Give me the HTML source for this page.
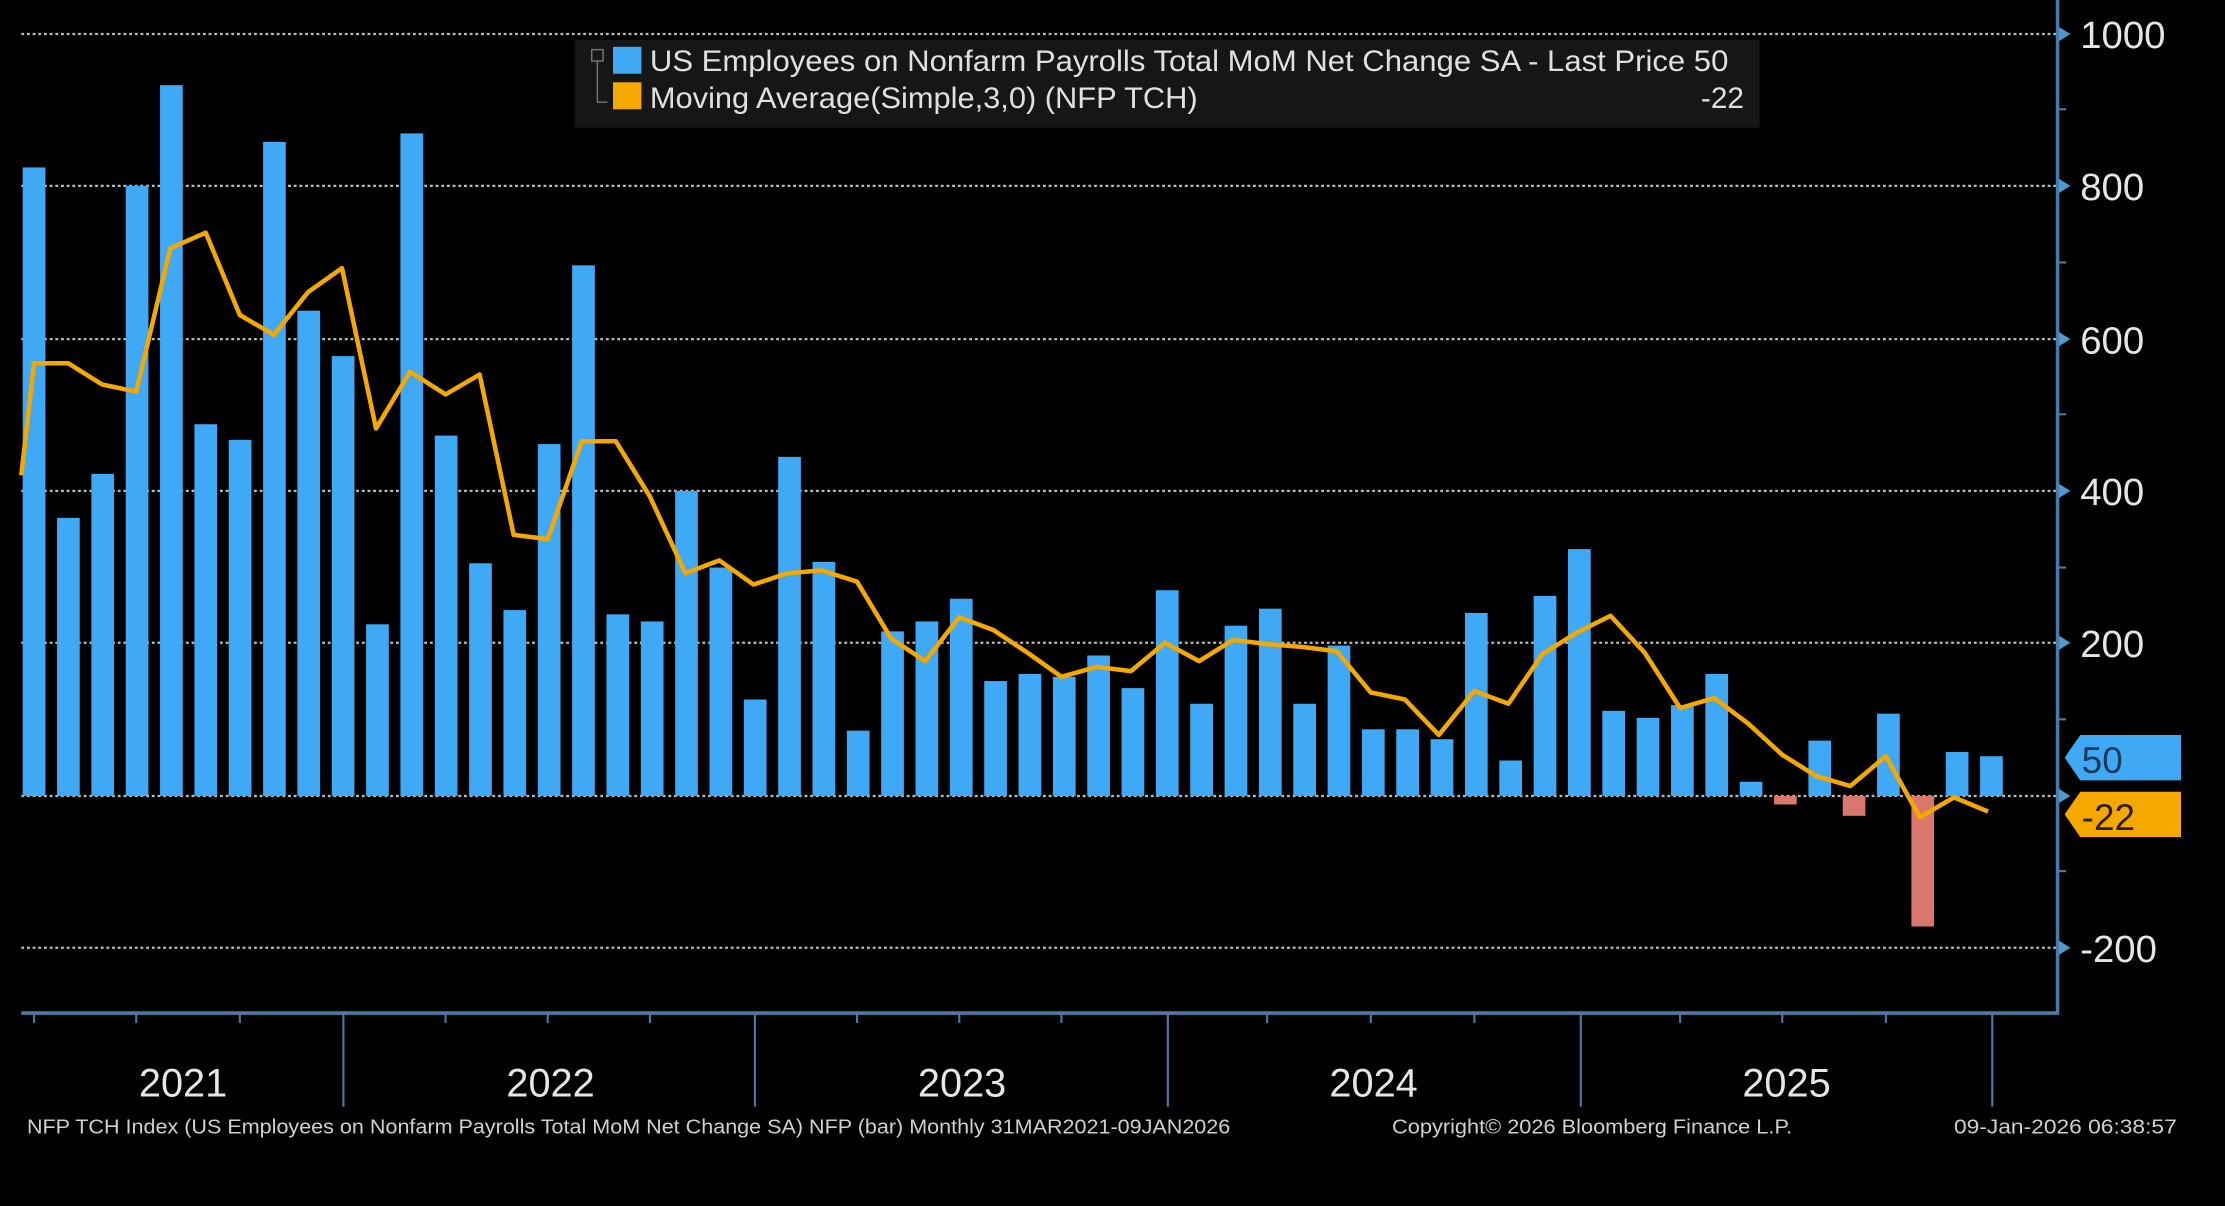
<!DOCTYPE html>
<html><head><meta charset="utf-8"><style>
html,body{margin:0;padding:0;background:#000;}
svg{display:block;}
text{font-family:"Liberation Sans",sans-serif;}
</style></head><body>
<svg width="2225" height="1206" viewBox="0 0 1568 850" preserveAspectRatio="none" xmlns="http://www.w3.org/2000/svg">
<rect width="1568" height="850" fill="#000"/>
<g stroke="#bbb" stroke-width="1.6" stroke-dasharray="2,2">
<line x1="15" y1="24" x2="1450" y2="24"/>
<line x1="15" y1="131" x2="1450" y2="131"/>
<line x1="15" y1="239" x2="1450" y2="239"/>
<line x1="15" y1="346" x2="1450" y2="346"/>
<line x1="15" y1="453" x2="1450" y2="453"/>
<line x1="15" y1="561" x2="1450" y2="561"/>
<line x1="15" y1="668" x2="1450" y2="668"/>
</g>
<rect x="405" y="28" width="835" height="62" fill="#161616"/>
<g fill="#3fa9f5">
<rect x="16" y="118" width="16" height="443"/><rect x="40.2" y="365" width="16" height="196"/><rect x="64.4" y="334" width="16" height="227"/><rect x="88.6" y="131" width="16" height="430"/><rect x="112.8" y="60" width="16" height="501"/><rect x="137" y="299" width="16" height="262"/><rect x="161.2" y="310" width="16" height="251"/><rect x="185.4" y="100" width="16" height="461"/><rect x="209.6" y="219" width="16" height="342"/><rect x="233.8" y="251" width="16" height="310"/><rect x="258" y="440" width="16" height="121"/><rect x="282.2" y="94" width="16" height="467"/><rect x="306.4" y="307" width="16" height="254"/><rect x="330.6" y="397" width="16" height="164"/><rect x="354.8" y="430" width="16" height="131"/><rect x="379" y="313" width="16" height="248"/><rect x="403.2" y="187" width="16" height="374"/><rect x="427.4" y="433" width="16" height="128"/><rect x="451.6" y="438" width="16" height="123"/><rect x="475.8" y="346" width="16" height="215"/><rect x="500" y="400" width="16" height="161"/><rect x="524.2" y="493" width="16" height="68"/><rect x="548.4" y="322" width="16" height="239"/><rect x="572.6" y="396" width="16" height="165"/><rect x="596.8" y="515" width="16" height="46"/><rect x="621" y="445" width="16" height="116"/><rect x="645.2" y="438" width="16" height="123"/><rect x="669.4" y="422" width="16" height="139"/><rect x="693.6" y="480" width="16" height="81"/><rect x="717.8" y="475" width="16" height="86"/><rect x="742" y="477" width="16" height="84"/><rect x="766.2" y="462" width="16" height="99"/><rect x="790.4" y="485" width="16" height="76"/><rect x="814.6" y="416" width="16" height="145"/><rect x="838.8" y="496" width="16" height="65"/><rect x="863" y="441" width="16" height="120"/><rect x="887.2" y="429" width="16" height="132"/><rect x="911.4" y="496" width="16" height="65"/><rect x="935.6" y="455" width="16" height="106"/><rect x="959.8" y="514" width="16" height="47"/><rect x="984" y="514" width="16" height="47"/><rect x="1008.2" y="521" width="16" height="40"/><rect x="1032.4" y="432" width="16" height="129"/><rect x="1056.6" y="536" width="16" height="25"/><rect x="1080.8" y="420" width="16" height="141"/><rect x="1105" y="387" width="16" height="174"/><rect x="1129.2" y="501" width="16" height="60"/><rect x="1153.4" y="506" width="16" height="55"/><rect x="1177.6" y="497" width="16" height="64"/><rect x="1201.8" y="475" width="16" height="86"/><rect x="1226" y="551" width="16" height="10"/><rect x="1274.4" y="522" width="16" height="39"/><rect x="1322.8" y="503" width="16" height="58"/><rect x="1371.2" y="530" width="16" height="31"/><rect x="1395.4" y="533" width="16" height="28"/>
</g>
<g fill="#d9776c">
<rect x="1250.2" y="561" width="16" height="6"/><rect x="1298.6" y="561" width="16" height="14"/><rect x="1347" y="561" width="16" height="92"/>
</g>
<polyline fill="none" stroke="#f5a800" stroke-width="3.2" stroke-linejoin="round" points="15,335 24,256 48,256 72,271 96,276 120,175 145,164 169,222 193,236 217,206 241,189 265,302 289,262 314,278 338,264 362,377 386,380 410,311 434,311 458,350 483,404 507,395 531,412 555,404 579,402 604,410 628,450 652,466 676,435 700,444 724,460 748,477 773,470 797,473 821,453 845,466 869,451 893,454 918,456 942,459 966,488 990,493 1014,518 1039,487 1063,496 1087,461 1111,446 1135,434 1159,460 1184,499 1208,492 1232,510 1256,532 1280,547 1304,554 1329,533 1353,576 1377,562 1401,572"/>
<g stroke="#4a7ba6" stroke-width="2.5" fill="none">
<line x1="1450" y1="0" x2="1450" y2="715"/>
<line x1="15" y1="714" x2="1451" y2="714"/>
</g>
<g stroke="#4a7ba6" stroke-width="1.5">
<line x1="242" y1="714" x2="242" y2="780"/><line x1="532" y1="714" x2="532" y2="780"/><line x1="823" y1="714" x2="823" y2="780"/><line x1="1114" y1="714" x2="1114" y2="780"/><line x1="1404" y1="714" x2="1404" y2="780"/>
<line x1="24" y1="714" x2="24" y2="721"/><line x1="96" y1="714" x2="96" y2="721"/><line x1="169" y1="714" x2="169" y2="721"/><line x1="314" y1="714" x2="314" y2="721"/><line x1="386" y1="714" x2="386" y2="721"/><line x1="458" y1="714" x2="458" y2="721"/><line x1="604" y1="714" x2="604" y2="721"/><line x1="676" y1="714" x2="676" y2="721"/><line x1="748" y1="714" x2="748" y2="721"/><line x1="893" y1="714" x2="893" y2="721"/><line x1="966" y1="714" x2="966" y2="721"/><line x1="1039" y1="714" x2="1039" y2="721"/><line x1="1184" y1="714" x2="1184" y2="721"/><line x1="1256" y1="714" x2="1256" y2="721"/><line x1="1329" y1="714" x2="1329" y2="721"/>
<line x1="1450" y1="77" x2="1456" y2="77"/><line x1="1450" y1="185" x2="1456" y2="185"/><line x1="1450" y1="292" x2="1456" y2="292"/><line x1="1450" y1="400" x2="1456" y2="400"/><line x1="1450" y1="507" x2="1456" y2="507"/><line x1="1450" y1="614" x2="1456" y2="614"/>
</g>
<g fill="#4a9ad6">
<path d="M1451,19 L1459,24 L1451,29Z"/><path d="M1451,126 L1459,131 L1451,136Z"/><path d="M1451,234 L1459,239 L1451,244Z"/><path d="M1451,341 L1459,346 L1451,351Z"/><path d="M1451,448 L1459,453 L1451,458Z"/><path d="M1451,556 L1459,561 L1451,566Z"/><path d="M1451,663 L1459,668 L1451,673Z"/>
</g>
<g fill="#e6e6e6" font-size="27">
<text x="1466" y="34">1000</text><text x="1466" y="141">800</text><text x="1466" y="249">600</text><text x="1466" y="356">400</text><text x="1466" y="463">200</text><text x="1466" y="678">-200</text>
</g>
<path d="M1455,534 L1466,518 L1537,518 L1537,550 L1466,550Z" fill="#3fa9f5"/>
<text x="1467" y="545" font-size="26" fill="#1d3a5c">50</text>
<path d="M1455,574 L1466,558 L1537,558 L1537,590 L1466,590Z" fill="#f5a800"/>
<text x="1467" y="585" font-size="26" fill="#2a1d00">-22</text>
<g fill="#e6e6e6" font-size="28" text-anchor="middle">
<text x="129" y="773">2021</text><text x="388" y="773">2022</text><text x="678" y="773">2023</text><text x="968" y="773">2024</text><text x="1259" y="773">2025</text>
</g>
<rect x="432" y="33" width="20" height="19" fill="#3fa9f5"/>
<rect x="432" y="58" width="20" height="19" fill="#f5a800"/>
<rect x="417" y="35" width="8" height="8" fill="none" stroke="#777" stroke-width="1"/>
<path d="M421,43 V72 H428" fill="none" stroke="#777" stroke-width="1"/>
<g fill="#e0e0e0" font-size="21">
<text x="458" y="50" textLength="760" lengthAdjust="spacingAndGlyphs">US Employees on Nonfarm Payrolls Total MoM Net Change SA - Last Price 50</text>
<text x="458" y="76" textLength="386" lengthAdjust="spacingAndGlyphs">Moving Average(Simple,3,0) (NFP TCH)</text>
<text x="1229" y="76" text-anchor="end">-22</text>
</g>
<g fill="#d0d0d0" font-size="14">
<text x="19" y="799" textLength="848" lengthAdjust="spacingAndGlyphs">NFP TCH Index (US Employees on Nonfarm Payrolls Total MoM Net Change SA) NFP (bar) Monthly 31MAR2021-09JAN2026</text>
<text x="981" y="799" textLength="282" lengthAdjust="spacingAndGlyphs">Copyright© 2026 Bloomberg Finance L.P.</text>
<text x="1377" y="799" textLength="157" lengthAdjust="spacingAndGlyphs">09-Jan-2026 06:38:57</text>
</g>
</svg>
</body></html>
